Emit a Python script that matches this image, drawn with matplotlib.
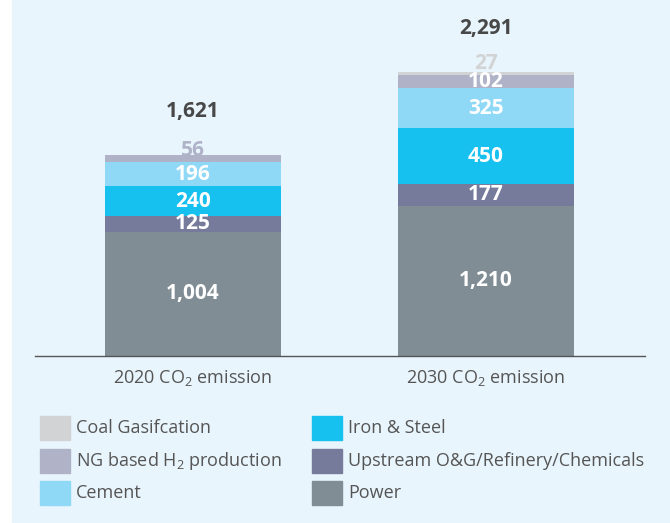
import matplotlib

matplotlib.use("Agg")
import matplotlib.pyplot as plt
from matplotlib.patches import Rectangle

plt.rcParams["font.family"] = ["Open Sans", "DejaVu Sans"]
plt.rcParams["mathtext.fontset"] = "custom"
plt.rcParams["mathtext.rm"] = "Open Sans"

CATEGORIES = ["2020 CO$_\\mathregular{2}$ emission", "2030 CO$_\\mathregular{2}$ emission"]
SEGMENTS = ["Power", "Upstream O&G/Refinery/Chemicals", "Iron & Steel", "Cement",
            "NG based H$_\\mathregular{2}$ production", "Coal Gasifcation"]
POWER = [1004, 1210]
UPSTREAM = [125, 177]
IRON_STEEL = [240, 450]
CEMENT = [196, 325]
NG_H2 = [56, 102]
COAL = [0, 27]
TOTALS = [1621, 2291]

COLORS = ["#808d94", "#767b9b", "#16c1f0", "#8fd8f6", "#b0b3c8", "#d2d3d5"]
BG = "#e8f5fc"


def main() -> None:
    fig = plt.figure(figsize=(6.7, 5.23), dpi=100)
    fig.patches.append(Rectangle((12 / 670, 0), 1, 1, transform=fig.transFigure,
                                 color=BG, zorder=-10))
    ax = fig.add_axes([35 / 670, (523 - 356) / 523, 610 / 670, 356 / 523])
    ax.set_facecolor("none")

    series = [POWER, UPSTREAM, IRON_STEEL, CEMENT, NG_H2, COAL]
    xs = [0, 1]
    bottoms = [0, 0]
    for name, vals, col in zip(SEGMENTS, series, COLORS):
        ax.bar(xs, vals, 0.6, bottom=bottoms, color=col, label=name, zorder=1)
        for x, v, b in zip(xs, vals, bottoms):
            if v == 0:
                continue
            mid = b + v / 2
            # thin segments: label sits above, partly tucked behind the bar
            if v < 40:
                ax.annotate(f"{v:,}", (x, mid), textcoords="offset points",
                            xytext=(0, 7), ha="center", va="center", zorder=0.5,
                            fontsize=15, fontweight="bold", color="#d2d3d5")
            elif v < 80:
                ax.annotate(f"{v:,}", (x, mid), textcoords="offset points",
                            xytext=(0, 6), ha="center", va="center", zorder=0.5,
                            fontsize=15, fontweight="bold", color="#b0b3c8")
            else:
                ax.text(x, mid, f"{v:,}", ha="center", va="center", zorder=3,
                        fontsize=15, fontweight="bold", color="white")
        bottoms = [b + v for b, v in zip(bottoms, vals)]

    for x, t in zip(xs, TOTALS):
        ax.annotate(f"{t:,}", (x, t), textcoords="offset points", xytext=(0, 31),
                    ha="center", va="center", fontsize=15, fontweight="bold",
                    color="#484848")

    ax.set_xlim(-0.539, 1.543)
    ax.set_ylim(0, 2871)
    for s in ["top", "right", "left"]:
        ax.spines[s].set_visible(False)
    ax.spines["bottom"].set_color("#555555")
    ax.spines["bottom"].set_linewidth(1)
    ax.set_yticks([])
    ax.set_xticks(xs)
    ax.set_xticklabels(CATEGORIES, fontsize=13, color="#555555")
    ax.tick_params(axis="x", length=0, pad=9)

    # legend laid out manually in two columns
    order = [5, 2, 4, 1, 3, 0]
    col_x = [40, 312]
    row_y = [428, 461, 493]
    for k, idx in enumerate(order):
        cx = col_x[k % 2]
        cy = row_y[k // 2]
        fig.patches.append(Rectangle((cx / 670, 1 - (cy + 12) / 523), 30 / 670, 24 / 523,
                                     transform=fig.transFigure, color=COLORS[idx]))
        fig.text((cx + 36) / 670, 1 - cy / 523, SEGMENTS[idx], ha="left", va="center",
                 fontsize=13, color="#555555")

    fig.savefig("out.png", dpi=100, facecolor="white")


if __name__ == "__main__":
    main()
